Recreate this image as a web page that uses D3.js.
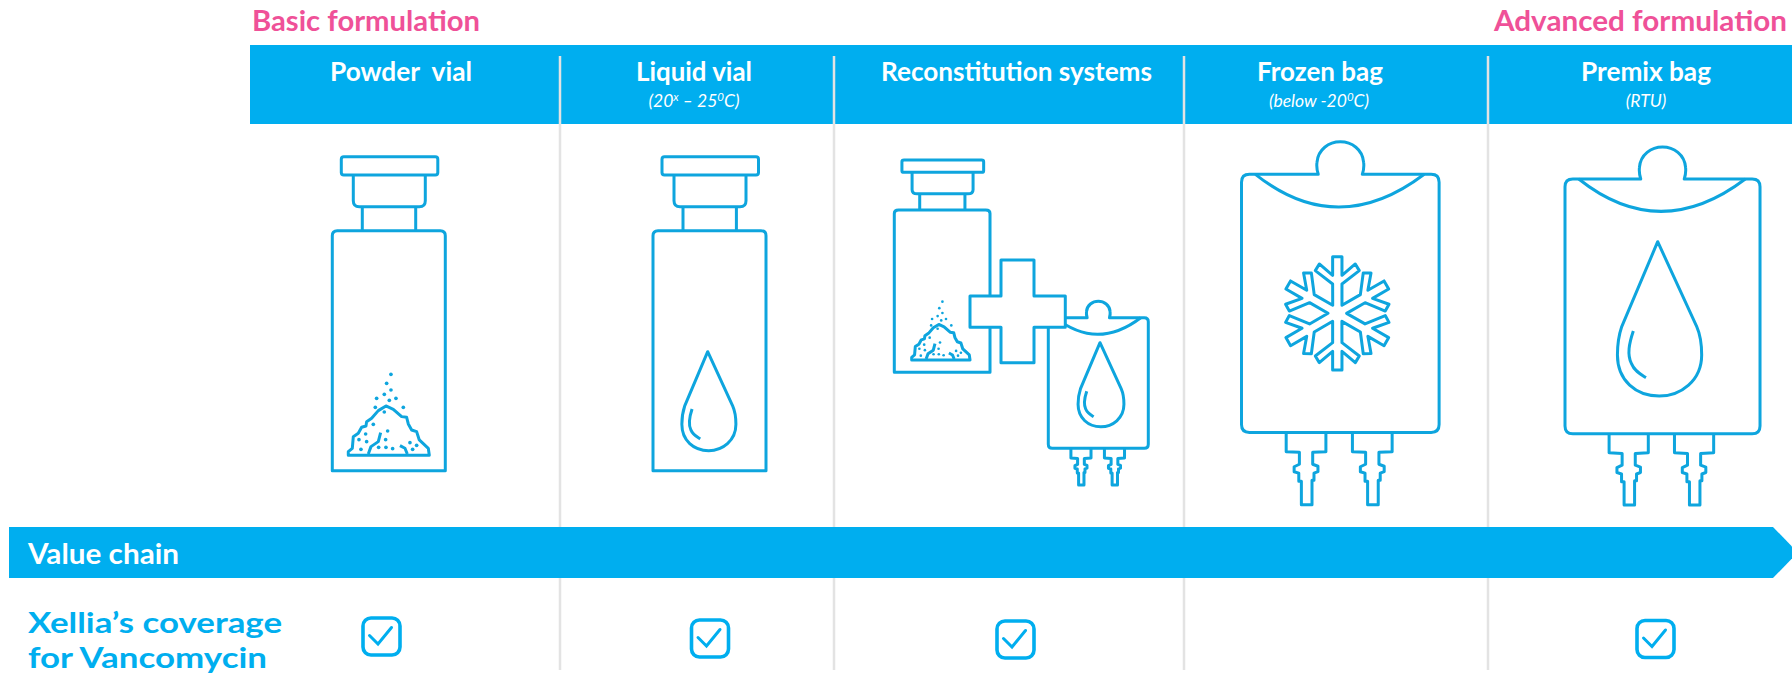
<!DOCTYPE html>
<meta charset="utf-8">
<style>
body { margin: 0; background: #fff; }
svg { display: block; }
text { font-family: Lato, "Open Sans", sans-serif; }
.head { font-weight: 700; fill: #fff; font-size: 26px; text-anchor: middle; }
.sub { font-style: italic; fill: #fff; font-size: 17.5px; text-anchor: middle; }
.pink { font-weight: 700; fill: #ef5198; font-size: 29px; }
.cover { font-weight: 700; fill: #00aeef; font-size: 29px; }
.icon path, .icon rect { fill: none; stroke: #0ea5de; stroke-width: 3px; stroke-linejoin: round; vector-effect: non-scaling-stroke; }
.icon circle { fill: #0ea5de; }
.icon .solid { fill: #fff; }
</style>
<svg width="1792" height="675"></svg>
<script src="https://d3js.org/d3.v7.min.js"></script>
<script>
var categories = ["Powder  vial", "Liquid vial", "Reconstitution systems", "Frozen bag", "Premix bag"];
var headWidths = [142, 116, 271, 126, 130];
// subtitle pieces: [text, is superscript]
var subtitles = [
    [],
    [["(20", 0], ["x", 1], [" – 25", 0], ["0", 1], ["C)", 0]],
    [],
    [["(below -20", 0], ["0", 1], ["C)", 0]],
    [["(RTU)", 0]]
];
var coverage = [1, 1, 1, 0, 1];

var svg = d3.select("svg");
var blue = "#00aeef";

var headX = d3.scaleOrdinal(categories, [401, 694, 1016.5, 1320, 1646]);
var subX = d3.scaleOrdinal(categories, [401, 694, 1016.5, 1319, 1646]);
var checkX = d3.scaleOrdinal(categories, [381.5, 710, 1015.5, 1320, 1655.5]);
var checkY = d3.scaleOrdinal(categories, [636.5, 638.5, 639.5, 639, 639]);
var dividerX = d3.scaleOrdinal(categories.slice(1), [560, 834, 1184, 1488]);

// top band
svg.append("rect").attr("x", 250).attr("y", 45).attr("width", 1542).attr("height", 79).attr("fill", blue);

svg.selectAll(".divider")
    .data(categories.slice(1))
    .enter().append("line")
    .attr("class", "divider")
    .attr("x1", dividerX).attr("x2", dividerX)
    .attr("y1", 56).attr("y2", 670)
    .attr("stroke", "#e3e3e3")
    .attr("stroke-width", 2.5);

// value chain arrow, runs off the right edge
var arrow = d3.path();
arrow.moveTo(9, 527);
arrow.lineTo(1773, 527);
arrow.lineTo(1798, 552.5);
arrow.lineTo(1773, 578);
arrow.lineTo(9, 578);
arrow.closePath();
svg.append("path").attr("d", arrow.toString()).attr("fill", blue);

svg.append("text").attr("class", "pink").attr("x", 252).attr("y", 31)
    .attr("textLength", 228).attr("lengthAdjust", "spacingAndGlyphs").text("Basic formulation");
svg.append("text").attr("class", "pink").attr("x", 1494).attr("y", 31)
    .attr("textLength", 293).attr("lengthAdjust", "spacingAndGlyphs").text("Advanced formulation");

svg.selectAll(".head")
    .data(categories)
    .enter().append("text")
    .attr("class", "head")
    .attr("x", headX)
    .attr("y", 81)
    .attr("textLength", function(d, i) { return headWidths[i]; })
    .attr("lengthAdjust", "spacingAndGlyphs")
    .style("white-space", "pre")
    .text(function(d) { return d; });

svg.selectAll(".sub")
    .data(categories)
    .enter().append("text")
    .attr("class", "sub")
    .attr("x", subX)
    .attr("y", 107)
    .each(function(d, i) {
        var t = d3.select(this);
        subtitles[i].forEach(function(p, j) {
            var prev = j > 0 ? subtitles[i][j - 1][1] : 0;
            t.append("tspan")
                .attr("dy", p[1] ? -6 : (prev ? 6 : 0))
                .style("font-size", p[1] ? "11.5px" : null)
                .style("white-space", "pre")
                .text(p[0]);
        });
    });

svg.append("text").attr("x", 28).attr("y", 564)
    .attr("font-weight", 700).attr("font-size", 28).attr("fill", "#fff")
    .attr("textLength", 151).attr("lengthAdjust", "spacingAndGlyphs").text("Value chain");
svg.append("text").attr("class", "cover").attr("x", 28).attr("y", 633)
    .attr("textLength", 254).attr("lengthAdjust", "spacingAndGlyphs").text("Xellia’s coverage");
svg.append("text").attr("class", "cover").attr("x", 28).attr("y", 668)
    .attr("textLength", 239).attr("lengthAdjust", "spacingAndGlyphs").text("for Vancomycin");

// checkboxes
var checks = svg.selectAll(".check")
    .data(categories.filter(function(d, i) { return coverage[i]; }))
    .enter().append("g")
    .attr("class", "check")
    .attr("transform", function(d) { return "translate(" + checkX(d) + "," + checkY(d) + ")"; });
checks.append("rect")
    .attr("x", -18.5).attr("y", -18.5).attr("width", 37).attr("height", 37).attr("rx", 8)
    .attr("fill", "none").attr("stroke", blue).attr("stroke-width", 3.6);
checks.append("path")
    .attr("d", "M-12,-1L-3.5,7.5L10,-9")
    .attr("fill", "none").attr("stroke", blue).attr("stroke-width", 3)
    .attr("stroke-linecap", "round");

// ---- icons, outlines ----
var icons = svg.append("g").attr("class", "icon");
var line = d3.line();

function place(sx, sy, x, y) {
    return icons.append("g").attr("transform", "translate(" + x + "," + y + ") scale(" + sx + "," + sy + ")");
}

function vial(x, y, sx, sy) {
    var g = place(sx, sy, x, y);
    g.append("rect").attr("x", 9).attr("y", 0).attr("width", 96.5).attr("height", 18.3).attr("rx", 2.5);
    g.append("path").attr("d", "M21,18.3V44Q21,50 27,50H87Q93,50 93,44V18.3");
    g.append("path").attr("d", "M30,50V74M83.4,50V74");
    g.append("path").attr("d", "M0,314V79Q0,74 5,74H108Q113,74 113,79V314Z");
}

function drop(x, y, s) {
    var g = place(s, s, x, y);
    g.append("path").attr("d", "M0,0L25.3,55C27.5,60 28.5,67 28.5,73.4C28.5,90 15,100 1,100C-14,100 -26.1,90 -26.1,73.4C-26.1,67 -25,60 -23.3,55Z");
    g.append("path").attr("d", "M-15.8,57.9C-18.5,66 -20,73 -17,79C-15,84 -11,86 -7.6,88.1");
}

var portOutline = [[-20, 0], [-20, 19.3], [-6.7, 20], [-6.7, 32], [-12, 34.5], [-12, 39.5], [-7.3, 41], [-7.3, 49], [-4.7, 49],
    [-4.7, 72.7], [6, 72.7], [6, 48], [8, 48], [8, 41], [12, 39.5], [12, 34], [6.7, 32], [6.7, 20], [20, 19.3], [20, 0]];

function bag(x, y, s) {
    var g = place(s, s, x, y);
    g.append("path").attr("d", "M8,0L77.3,0C76,-4 75.5,-8 76,-12C77,-25 88,-32.7 99.5,-32.7C111,-32.7 122,-25 123,-12C123.5,-8 123,-4 121.7,0L191,0Q199,0 199,8L199,252Q199,260 191,260L8,260Q0,260 0,252L0,8Q0,0 8,0Z");
    g.append("path").attr("d", "M14,0Q97,66 184,0");
    [65, 131.7].forEach(function(cx) {
        g.append("path").attr("transform", "translate(" + cx + ",260)").attr("d", line(portOutline));
    });
}

// powder heap, in 3x crop units measured from the heap's lower left corner
var pile = [[0, -11], [12, -21], [15, -56], [30, -66], [40, -84], [53, -88], [55, -101], [70, -111], [90, -134], [113, -148],
    [135, -138], [160, -116], [175, -114], [180, -94], [190, -76], [205, -71], [213, -46], [240, -21], [243, 0], [0, 0]];
var grains = [[128, -243], [115, -216], [128, -196], [108, -183], [85, -171], [123, -165], [143, -171], [81, -144], [165, -144],
    [108, -130], [75, -93], [118, -73], [52, -64], [32, -47], [55, -41], [112, -47], [91, -24], [113, -24], [133, -20], [38, -18],
    [185, -38], [205, -30], [193, -18]];

function powder(x, y, s) {
    var g = place(s / 3, s / 3, x, y);
    g.append("path").attr("d", line(pile) + "Z");
    g.append("path").attr("d", "M60,-4L68,-26L90,-41L97,-68");
    g.append("path").attr("d", "M155,-29L170,-21L177,-4");
    g.selectAll("circle").data(grains).enter().append("circle")
        .attr("cx", function(d) { return d[0]; })
        .attr("cy", function(d) { return d[1]; })
        .attr("r", 5.5);
}

// one arm of the flake pointing up, repeated six times, 3x crop units
var flakeArm = [[-14, 88], [-66, 128], [-54, 148], [-14, 114], [-14, 170], [14, 170], [14, 114], [54, 148], [66, 128], [14, 88], [14, 24]];

function flake(x, y) {
    var pts = [];
    d3.range(6).forEach(function(k) {
        var a = k * Math.PI / 3;
        flakeArm.forEach(function(p) {
            pts.push([p[0] * Math.cos(a) + p[1] * Math.sin(a), p[0] * Math.sin(a) - p[1] * Math.cos(a)]);
        });
    });
    place(1 / 3, 1 / 3, x, y).append("path").attr("d", line(pts) + "Z");
}

// powder vial
vial(332.3, 156.7, 1, 1);
powder(348.3, 455.3, 1);

// liquid vial
vial(653, 156.7, 1, 1);
drop(707.7, 351.7, 0.99);

// reconstitution: small vial + small bag, with the cross on top
vial(894.3, 160, 0.847, 0.676);
powder(911.7, 360, 0.72);
bag(1048.3, 317.7, 0.5025);
drop(1100, 342.7, 0.84);
icons.append("path")
    .attr("class", "solid")
    .attr("d", "M1001,260H1034V296H1065.3V327.3H1034V362.7H1001V327.3H970V296H1001Z");

// frozen bag
bag(1241.5, 174.3, 0.993);
flake(1337.3, 313.3);

// premix bag
bag(1565, 179, 0.98);
drop(1657.7, 241.7, 1.543);
</script>
